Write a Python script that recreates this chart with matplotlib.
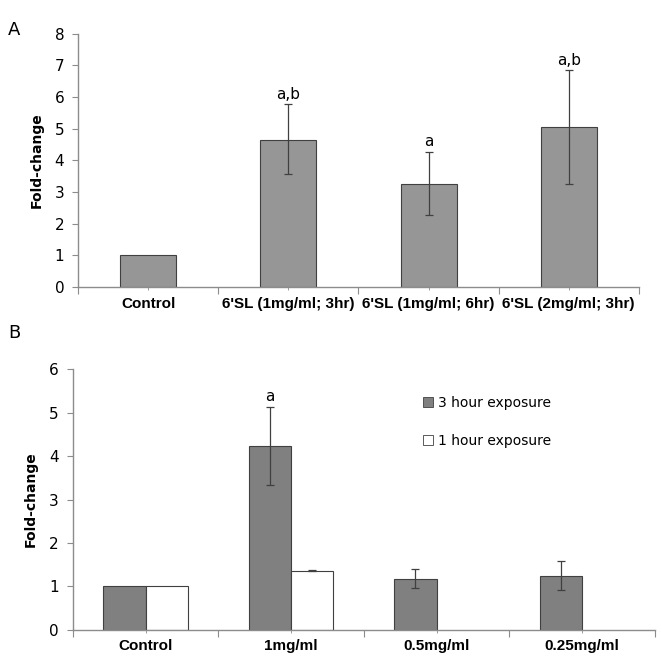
import matplotlib
matplotlib.use("Agg")
import matplotlib.pyplot as plt
import numpy as np

# Panel A data
cats_a = ["Control", "6'SL (1mg/ml; 3hr)", "6'SL (1mg/ml; 6hr)", "6'SL (2mg/ml; 3hr)"]
vals_a = [1.0, 4.66, 3.27, 5.05]
err_lo_a = [0.0, 1.08, 1.00, 1.78]
err_hi_a = [0.0, 1.11, 1.00, 1.80]
sig_a = ["", "a,b", "a", "a,b"]

# Panel B data
cats_b = ["Control", "1mg/ml", "0.5mg/ml", "0.25mg/ml"]
vals_3h = [1.0, 4.24, 1.17, 1.25]
err_lo_3h = [0.0, 0.90, 0.20, 0.33]
err_hi_3h = [0.0, 0.89, 0.23, 0.33]
vals_1h = [1.0, 1.36, np.nan, np.nan]
err_1h = [0.0, 0.01, 0.0, 0.0]
sig_b = ["", "a", "", ""]
legend_labels = ["3 hour exposure", "1 hour exposure"]

plt.rcParams['font.family'] = ['DejaVu Sans']
spine_c = "#8c8c8c"

fig = plt.figure(figsize=(6.62, 6.63), dpi=100)

def style_axes(ax, n):
    for s in ["top", "right"]:
        ax.spines[s].set_visible(False)
    for s in ["left", "bottom"]:
        ax.spines[s].set_color(spine_c)
        ax.spines[s].set_linewidth(1.0)
    ax.set_xlim(-0.5, n - 0.5)
    ax.set_xticks(np.arange(n + 1) - 0.5)
    ax.set_xticklabels([])
    ax.tick_params(axis="x", which="major", length=5, color=spine_c, direction="out")
    ax.set_xticks(np.arange(n), minor=True)
    ax.set_xticklabels([], minor=True)
    ax.tick_params(axis="x", which="minor", length=4, color=spine_c, direction="inout")
    ax.tick_params(axis="y", length=4, color=spine_c, labelsize=11, pad=6)

# Panel A
axA = fig.add_axes([0.118, 0.567, 0.847, 0.382])
xa = np.arange(len(cats_a))
axA.bar(xa, vals_a, width=0.4, color="#969696", edgecolor="#404040", linewidth=0.8, zorder=2)
axA.errorbar(xa[1:], vals_a[1:], yerr=[err_lo_a[1:], err_hi_a[1:]], fmt="none",
             ecolor="#404040", elinewidth=0.9, capsize=3, capthick=0.9, zorder=3)
for i, s in enumerate(sig_a):
    if s:
        axA.text(xa[i], vals_a[i] + err_hi_a[i] + 0.08, s, ha="center", va="bottom", fontsize=11)
axA.set_ylim(0, 8)
axA.set_yticks(range(0, 9))
style_axes(axA, len(cats_a))
for i, c in enumerate(cats_a):
    axA.text(xa[i], -0.3, c, ha="center", va="top", fontsize=11, fontweight="bold",
             family="Liberation Sans", transform=axA.transData)
axA.set_ylabel("Fold-change", fontsize=10, fontweight="bold", labelpad=8)
fig.text(0.012, 0.955, "A", fontsize=13, va="center")

# Panel B
axB = fig.add_axes([0.110, 0.050, 0.879, 0.393])
xb = np.arange(len(cats_b))
w = 0.29
axB.bar(xb - w / 2, vals_3h, width=w, color="#808080", edgecolor="#404040", linewidth=0.8,
        zorder=2, label=legend_labels[0])
axB.bar(xb + w / 2, vals_1h, width=w, color="white", edgecolor="#404040", linewidth=0.8,
        zorder=2, label=legend_labels[1])
axB.errorbar((xb - w / 2)[1:], vals_3h[1:], yerr=[err_lo_3h[1:], err_hi_3h[1:]], fmt="none",
             ecolor="#404040", elinewidth=0.9, capsize=3, capthick=0.9, zorder=3)
axB.errorbar([xb[1] + w / 2], [vals_1h[1]], yerr=[[err_1h[1]], [err_1h[1]]], fmt="none",
             ecolor="#404040", elinewidth=0.9, capsize=3, capthick=0.9, zorder=3)
for i, s in enumerate(sig_b):
    if s:
        axB.text(xb[i] - w / 2, vals_3h[i] + err_hi_3h[i] + 0.06, s, ha="center", va="bottom", fontsize=11)
axB.set_ylim(0, 6)
axB.set_yticks(range(0, 7))
style_axes(axB, len(cats_b))
for i, c in enumerate(cats_b):
    axB.text(xb[i], -0.22, c, ha="center", va="top", fontsize=11, fontweight="bold",
             family="Liberation Sans", transform=axB.transData)
axB.set_ylabel("Fold-change", fontsize=10, fontweight="bold", labelpad=8)
leg = axB.legend(loc="upper left", bbox_to_anchor=(0.58, 0.945), frameon=False, fontsize=10,
                 handlelength=0.7, handleheight=0.7, handletextpad=0.4, labelspacing=1.7)
for h in leg.legend_handles:
    h.set_linewidth(0.6)
    h.set_edgecolor("#404040")
fig.text(0.012, 0.497, "B", fontsize=13, va="center")

fig.savefig("out.png", dpi=100)
